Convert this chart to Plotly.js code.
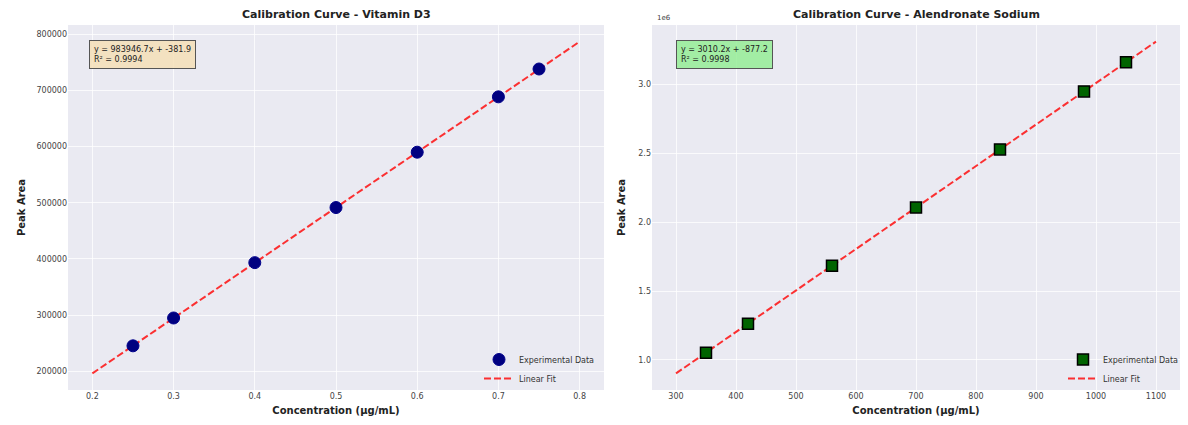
<!DOCTYPE html>
<html>
<head>
<meta charset="utf-8">
<script src="https://cdn.plot.ly/plotly-3.0.1.min.js"></script>
<style>html,body{margin:0;padding:0;background:#fff;}#chart{width:1188px;height:425px;}</style>
</head>
<body>
<div id="chart"></div>
<script>
// ---- Data ----
const vitD3Conc = [0.25, 0.3, 0.4, 0.5, 0.6, 0.7, 0.75];
const vitD3Area = [245500, 295000, 393500, 491500, 590000, 688500, 738000];
const vitD3Slope = 983946.7;
const vitD3Intercept = -381.9;
const vitD3R2 = "0.9994";
const vitD3FitRange = [0.2, 0.8];

const alenConc = [350, 420, 560, 700, 840, 980, 1050];
const alenArea = [1052000, 1263000, 1684000, 2106000, 2528000, 2949000, 3160000];
const alenSlope = 3010.2;
const alenIntercept = -877.2;
const alenR2 = "0.9998";
const alenFitRange = [300, 1100];

const leftYTicks = [200000, 300000, 400000, 500000, 600000, 700000, 800000];
const leftXTicks = [0.2, 0.3, 0.4, 0.5, 0.6, 0.7, 0.8];
const rightYTicks = [1000000, 1500000, 2000000, 2500000, 3000000];
const rightYTickText = ["1.0", "1.5", "2.0", "2.5", "3.0"];
const rightXTicks = [300, 400, 500, 600, 700, 800, 900, 1000, 1100];

const W = 1188, H = 425;
const px = v => v / W;
const py = v => 1 - v / H;

function fitLine(range, m, b) {
  return {x: range.slice(), y: range.map(v => m * v + b)};
}
const fit1 = fitLine(vitD3FitRange, vitD3Slope, vitD3Intercept);
const fit2 = fitLine(alenFitRange, alenSlope, alenIntercept);

const FONT = "DejaVu Sans, Liberation Sans, sans-serif";

const traces = [
  {x: fit1.x, y: fit1.y, type: 'scatter', mode: 'lines', name: 'Linear Fit',
   xaxis: 'x', yaxis: 'y', legend: 'legend', opacity: 0.8, legendrank: 2,
   line: {color: 'red', width: 2, dash: '7px,3px'}},
  {x: vitD3Conc, y: vitD3Area, type: 'scatter', mode: 'markers', name: 'Experimental Data',
   xaxis: 'x', yaxis: 'y', legend: 'legend', legendrank: 1,
   marker: {color: '#000080', size: 12, line: {color: '#00008b', width: 1}}},
  {x: fit2.x, y: fit2.y, type: 'scatter', mode: 'lines', name: 'Linear Fit',
   xaxis: 'x2', yaxis: 'y2', legend: 'legend2', opacity: 0.8, legendrank: 2,
   line: {color: 'red', width: 2, dash: '7px,3px'}},
  {x: alenConc, y: alenArea, type: 'scatter', mode: 'markers', name: 'Experimental Data',
   xaxis: 'x2', yaxis: 'y2', legend: 'legend2', legendrank: 1,
   marker: {color: '#006400', size: 11, symbol: 'square', line: {color: '#000', width: 1.5}}}
];

const leftDom = [px(68), px(604)];
const rightDom = [px(652), px(1180)];
const yDom = [py(390), py(25)];

function pad(lo, hi) { const d = (hi - lo) * 0.05; return [lo - d, hi + d]; }

const axBase = {
  showgrid: true, gridcolor: 'rgba(255,255,255,0.75)', gridwidth: 1, zeroline: false,
  showline: false, ticks: '', ticklen: 0,
  tickfont: {family: FONT, size: 8, color: '#444'},
  automargin: false
};
const titleFont = {family: FONT, size: 10, color: '#222', weight: 'bold'};
const legFont = {family: FONT, size: 8, color: '#333'};

const layout = {
  width: W, height: H,
  margin: {l: 0, r: 0, t: 0, b: 0},
  paper_bgcolor: '#ffffff',
  plot_bgcolor: '#eaeaf2',
  font: {family: FONT},
  showlegend: true,
  xaxis: Object.assign({}, axBase, {domain: leftDom, anchor: 'y',
    range: pad(vitD3FitRange[0], vitD3FitRange[1]), tickvals: leftXTicks,
    tickformat: '.1f',
    title: {text: 'Concentration (μg/mL)', font: titleFont, standoff: 6}}),
  yaxis: Object.assign({}, axBase, {domain: yDom, anchor: 'x',
    range: pad(fit1.y[0], fit1.y[1]), tickvals: leftYTicks, tickformat: 'd',
    title: {text: 'Peak Area', font: titleFont, standoff: 8}}),
  xaxis2: Object.assign({}, axBase, {domain: rightDom, anchor: 'y2',
    range: pad(alenFitRange[0], alenFitRange[1]), tickvals: rightXTicks,
    title: {text: 'Concentration (μg/mL)', font: titleFont, standoff: 6}}),
  yaxis2: Object.assign({}, axBase, {domain: yDom, anchor: 'x2',
    range: pad(fit2.y[0], fit2.y[1]), tickvals: rightYTicks, ticktext: rightYTickText,
    title: {text: 'Peak Area', font: titleFont, standoff: 10}}),
  legend: {x: px(600), y: py(393), xanchor: 'right', yanchor: 'bottom',
    xref: 'paper', yref: 'paper',
    bgcolor: 'rgba(255,255,255,0.0)', borderwidth: 0,
    font: legFont, tracegroupgap: 0, itemwidth: 30},
  legend2: {x: px(1184), y: py(393), xanchor: 'right', yanchor: 'bottom',
    xref: 'paper', yref: 'paper',
    bgcolor: 'rgba(255,255,255,0.0)', borderwidth: 0,
    font: legFont, tracegroupgap: 0, itemwidth: 30},
  annotations: [
    {text: '<b>Calibration Curve - Vitamin D3</b>', xref: 'paper', yref: 'paper',
     x: (leftDom[0] + leftDom[1]) / 2, y: py(14), xanchor: 'center', yanchor: 'middle',
     showarrow: false, font: {family: FONT, size: 11, color: '#222'}},
    {text: '<b>Calibration Curve - Alendronate Sodium</b>', xref: 'paper', yref: 'paper',
     x: (rightDom[0] + rightDom[1]) / 2, y: py(14), xanchor: 'center', yanchor: 'middle',
     showarrow: false, font: {family: FONT, size: 11, color: '#222'}},
    {text: 'y = ' + vitD3Slope.toFixed(1) + 'x + ' + vitD3Intercept.toFixed(1) + '<br>R² = ' + vitD3R2,
     xref: 'x domain', yref: 'y domain', x: 0.04, y: 0.96, xanchor: 'left', yanchor: 'top',
     align: 'left', showarrow: false, bgcolor: 'rgba(245,222,179,0.8)', bordercolor: '#555',
     borderwidth: 1, borderpad: 4, font: {family: FONT, size: 8, color: '#222'}},
    {text: 'y = ' + alenSlope.toFixed(1) + 'x + ' + alenIntercept.toFixed(1) + '<br>R² = ' + alenR2,
     xref: 'x2 domain', yref: 'y2 domain', x: 0.045, y: 0.96, xanchor: 'left', yanchor: 'top',
     align: 'left', showarrow: false, bgcolor: 'rgba(144,238,144,0.8)', bordercolor: '#555',
     borderwidth: 1, borderpad: 4, font: {family: FONT, size: 8, color: '#222'}},
    {text: '1e6', xref: 'paper', yref: 'paper', x: px(655), y: py(18), xanchor: 'left',
     yanchor: 'middle', showarrow: false, font: {family: FONT, size: 7, color: '#444'}}
  ]
};

Plotly.newPlot('chart', traces, layout, {staticPlot: true, displayModeBar: false});
</script>
</body>
</html>
